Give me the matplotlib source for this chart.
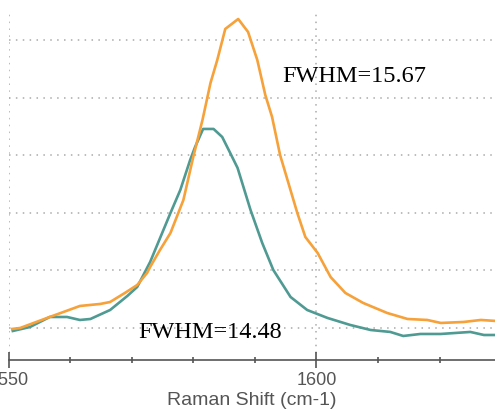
import numpy as np
import matplotlib.pyplot as plt
from matplotlib.ticker import MultipleLocator

plt.rcParams['font.family'] = ['Liberation Sans', 'DejaVu Sans']

# Raman spectra around the G band (intensity in counts)
shift_a = [1550.6, 1551.9, 1556.7, 1561.6, 1564.9, 1566.5, 1568.9, 1570.9, 1572.5,
           1573.0, 1574.6, 1576.3, 1578.4, 1580.0, 1581.5, 1582.8, 1583.9, 1585.2,
           1587.3, 1588.9, 1590.4, 1591.7, 1592.8, 1594.1, 1596.9, 1598.2, 1600.2,
           1602.3, 1604.7, 1607.6, 1611.5, 1614.8, 1618.0, 1620.2, 1623.9, 1626.7, 1629.1]
counts_a = [983, 1000, 1191, 1382, 1417, 1451, 1608, 1746, 1955,
            2059, 2354, 2649, 3222, 3969, 4611, 5253, 5652, 6191,
            6364, 6139, 5652, 5045, 4663, 4003, 2996, 2580, 2302,
            1885, 1608, 1434, 1260, 1156, 1139, 1087, 1104, 1139, 1122]

shift_b = [1550.7, 1553.5, 1556.7, 1559.5, 1561.6, 1563.3, 1566.5, 1569.3, 1570.9,
           1573.0, 1576.3, 1577.9, 1579.5, 1580.3, 1581.6, 1583.3, 1584.7, 1586.0,
           1587.2, 1589.3, 1591.2, 1593.0, 1595.8, 1598.5, 1601.8, 1605.5, 1608.8,
           1612.0, 1614.1, 1616.9, 1620.2, 1625.0, 1627.2, 1629.1]
counts_b = [948, 1017, 1191, 1191, 1139, 1156, 1312, 1556, 1712,
            2146, 2996, 3396, 3917, 4142, 4455, 4455, 4316, 4038,
            3778, 3049, 2476, 2007, 1538, 1312, 1174, 1052, 965,
            931, 861, 896, 896, 931, 878, 878]

fwhm_a = "FWHM=15.67"
fwhm_b = "FWHM=14.48"

fig = plt.figure(figsize=(4.95, 4.11), dpi=100)
ax = fig.add_axes([8.5 / 495, 51 / 411, 486.5 / 495, 350 / 411])

ax.plot(shift_b, counts_b, color='#4f9a92', lw=1.9, solid_joinstyle='round')
ax.plot(shift_a, counts_a, color='#f6a139', lw=1.9, solid_joinstyle='round')

ax.set_xlim(1550, 1629)
ax.set_ylim(444, 6520)

ax.xaxis.set_major_locator(MultipleLocator(50))
ax.xaxis.set_minor_locator(MultipleLocator(10))
ax.set_yticks([1000, 2000, 3000, 4000, 5000, 6000])
ax.tick_params(axis='y', left=False, labelleft=False)
ax.tick_params(axis='x', which='major', direction='inout', length=11, width=1.2,
               color='#555555', labelsize=13, labelcolor='#555555', pad=3)
ax.tick_params(axis='x', which='minor', direction='inout', length=4, width=1.2,
               color='#555555')

for side in ['left', 'right', 'top']:
    ax.spines[side].set_visible(False)
ax.spines['bottom'].set_color('#555555')
ax.spines['bottom'].set_linewidth(1.2)

ax.grid(True, which='major', color='#aaaaaa', linestyle=(0, (1, 3.5)), linewidth=1.1)
ax.set_axisbelow(True)

ax.set_xlabel('Raman Shift (cm-1)', fontsize=14, color='#555555', labelpad=2)

ax.text(1594.5, 5357, fwhm_a, fontsize=17.5, family=['Liberation Serif', 'DejaVu Serif'],
        ha='left', va='center')
ax.text(1571.1, 913, fwhm_b, fontsize=17.5, family=['Liberation Serif', 'DejaVu Serif'],
        ha='left', va='center')

fig.savefig('out.png', dpi=100)
